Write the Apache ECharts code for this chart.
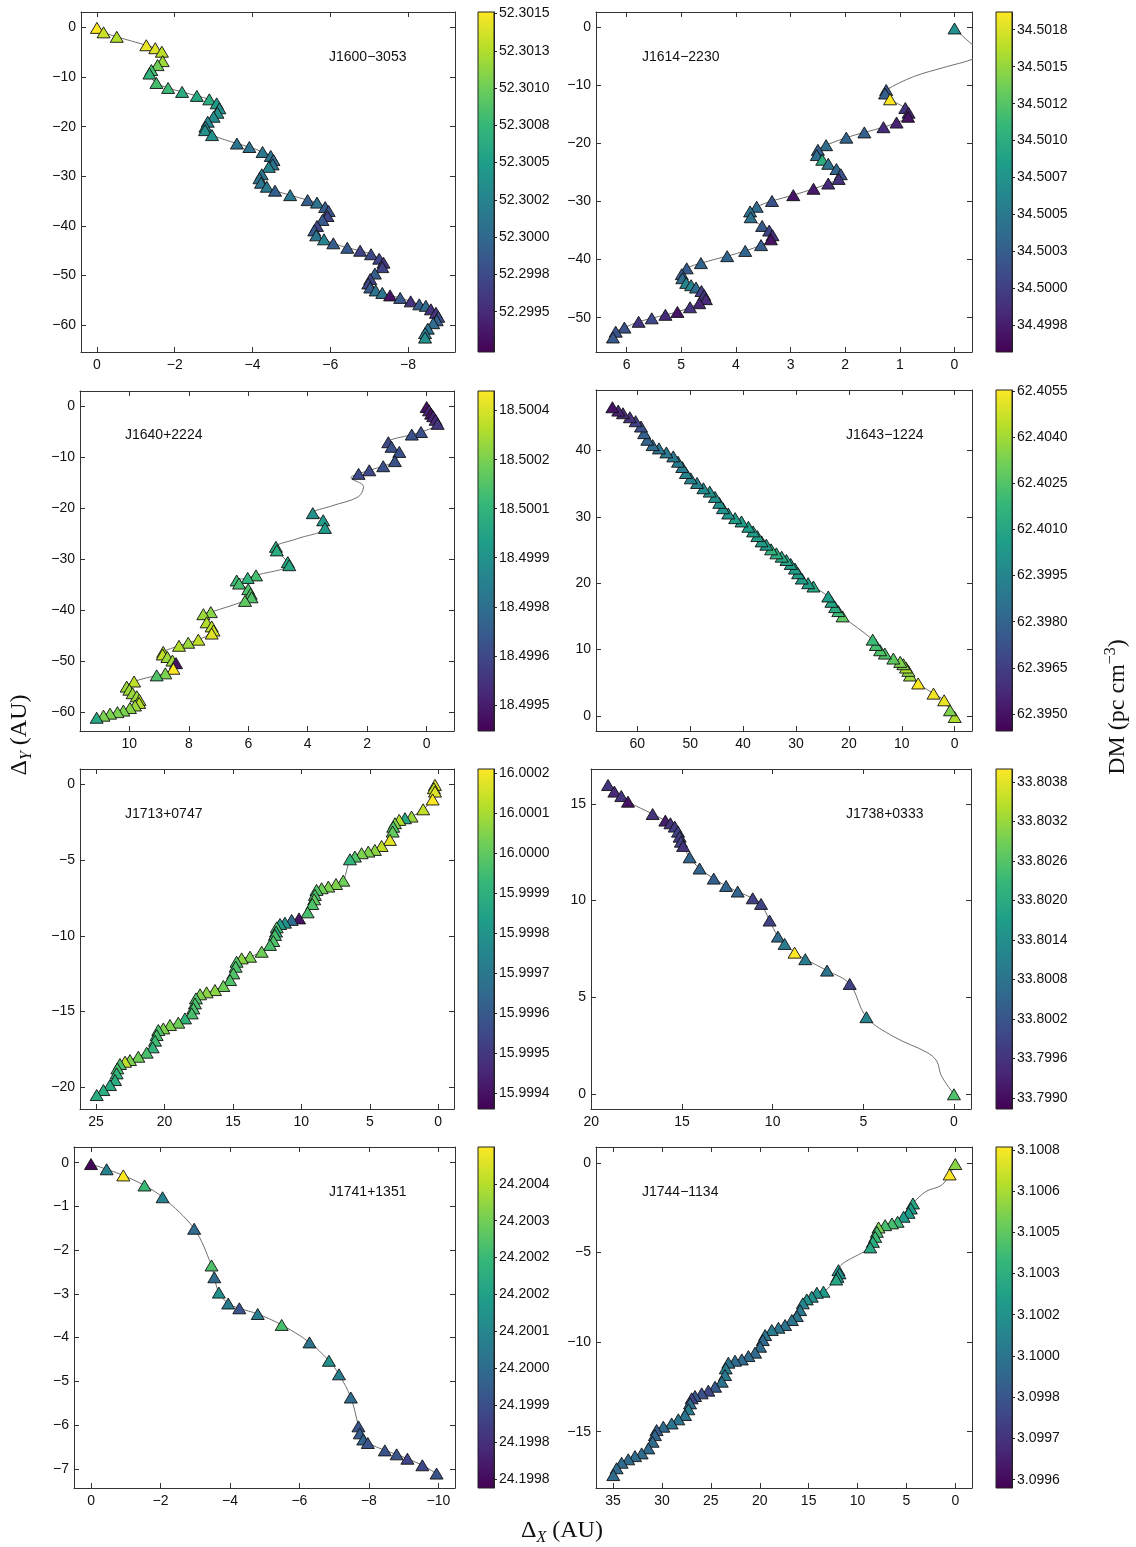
<!DOCTYPE html>
<html>
<head>
<meta charset="utf-8">
<script src="https://cdn.jsdelivr.net/npm/echarts@6/dist/echarts.min.js"></script>
<style>
html, body { margin: 0; padding: 0; background: #fff; }
#main { width: 1136px; height: 1547px; }
</style>
</head>
<body>
<div id="main"></div>
<script>
// pulsar names, one panel each
var names = ['J1600\u22123053', 'J1614\u22122230', 'J1640+2224', 'J1643\u22121224',
             'J1713+0747', 'J1738+0333', 'J1741+1351', 'J1744\u22121134'];

// [dX (AU), dY (AU), DM]; rows with DM null are only knots of the grey curve
var psr1600 = [
  [0,-0.1,52.30151],[-0.17,-1.0,52.30133],[-0.51,-1.9,52.30124],[-1.27,-3.6,52.30144],
  [-1.5,-4.2,52.30140],[-1.67,-4.9,52.30128],[-1.69,-6.8,52.30117],[-1.56,-7.6,52.30101],
  [-1.40,-8.6,52.30083],[-1.35,-9.3,52.30071],[-1.53,-11.2,52.30083],[-1.83,-12.2,52.30078],
  [-2.19,-13.0,52.30064],[-2.57,-13.8,52.30060],[-2.89,-14.5,52.30064],[-3.08,-15.3,52.30048],
  [-3.15,-16.3,52.30037],[-3.10,-17.2,52.30037],[-3.0,-18.0,52.30032],[-2.85,-19.0,52.30026],
  [-2.79,-20.0,52.30026],[-2.78,-20.7,52.30037],[-2.96,-21.7,52.30037],[-3.6,-23.4,52.30010],
  [-3.92,-24.1,52.30010],[-4.26,-25.1,52.30014],[-4.47,-25.9,52.30010],[-4.54,-26.7,52.30003],
  [-4.52,-27.6,52.30010],[-4.42,-28.1,52.30026],[-4.24,-29.6,52.30010],[-4.18,-30.4,52.30010],
  [-4.22,-31.3,52.30010],[-4.37,-32.1,52.30014],[-4.58,-32.9,52.29991],[-4.97,-33.8,52.30014],
  [-5.42,-34.8,52.29991],[-5.66,-35.3,52.30010],[-5.87,-36.2,52.29991],[-5.96,-37.0,52.29980],
  [-5.93,-38.0,52.29969],[-5.80,-38.8,52.29987],[-5.66,-40.0,52.29969],[-5.59,-40.9,52.29987],
  [-5.64,-41.9,52.30010],[-5.84,-42.7,52.30026],[-6.08,-43.5,52.29991],[-6.44,-44.4,52.29987],
  [-6.77,-45.0,52.29969],[-7.05,-45.7,52.29973],[-7.26,-46.6,52.29969],[-7.37,-47.4,52.29957],
  [-7.34,-48.3,52.29969],[-7.15,-49.6,52.29991],[-7.03,-50.7,52.29969],[-6.98,-51.6,52.29973],
  [-7.03,-52.4,52.29987],[-7.17,-53.0,52.30010],[-7.34,-53.5,52.30010],[-7.54,-54.0,52.29934],
  [-7.8,-54.5,52.29987],[-8.07,-55.2,52.29957],[-8.29,-55.8,52.29991],[-8.46,-56.1,52.30003],
  [-8.59,-56.8,52.29957],[-8.72,-57.5,52.29957],[-8.78,-58.3,52.29980],[-8.74,-59.0,52.29991],
  [-8.65,-59.6,52.30003],[-8.51,-60.7,52.30010],[-8.44,-61.6,52.30014],[-8.44,-62.5,52.30037]
];
var psr1614 = [
  [0,-0.2,34.50072],[-0.33,-3.0,null],[-0.55,-4.3,null],[-0.33,-5.5,null],[0.15,-6.8,null],[0.75,-8.5,null],
  [1.25,-10.8,34.50015],[1.27,-11.4,34.50026],[1.18,-12.4,34.50187],[0.9,-13.9,34.49992],
  [0.84,-14.7,34.49980],[0.85,-15.4,34.49969],[1.06,-16.4,34.49980],[1.3,-17.2,34.49985],
  [1.65,-18.1,34.50026],[1.98,-19.0,34.50031],[2.35,-20.3,34.50038],[2.50,-21.1,34.50026],
  [2.52,-22.0,34.50038],[2.42,-22.8,34.50100],[2.31,-23.5,34.50044],[2.16,-24.4,34.50033],
  [2.08,-25.3,34.50015],[2.12,-26.1,34.49992],[2.31,-26.9,34.49985],[2.58,-27.8,34.49973],
  [2.95,-28.9,34.49969],[3.34,-29.9,34.50015],[3.62,-30.9,34.50038],[3.74,-31.7,34.50044],
  [3.73,-32.7,34.50044],[3.52,-34.2,34.50021],[3.39,-35.0,34.50003],[3.33,-35.8,34.49992],
  [3.36,-36.5,34.49969],[3.54,-37.5,34.50026],[3.83,-38.5,34.50031],[4.16,-39.4,34.50031],
  [4.64,-40.6,34.50031],[4.90,-41.5,34.50021],[4.99,-42.5,34.50021],[4.98,-43.2,34.50038],
  [4.91,-44.0,34.50061],[4.82,-44.4,34.50061],[4.73,-44.8,34.50038],[4.63,-45.4,34.49998],
  [4.58,-46.1,34.49992],[4.55,-46.8,34.49985],[4.67,-47.5,34.49980],[4.84,-48.2,34.49992],
  [5.07,-49.0,34.49969],[5.29,-49.5,34.49985],[5.54,-50.1,34.50008],[5.78,-50.7,34.49992],
  [6.04,-51.7,34.50015],[6.2,-52.4,34.50015],[6.25,-53.4,34.50021]
];
var psr1640 = [
  [0,-0.2,18.49947],[-0.08,-0.85,18.49952],[-0.15,-1.5,18.49947],[-0.22,-2.0,18.49952],
  [-0.3,-2.7,18.49954],[-0.37,-3.5,18.49958],[0.19,-5.1,18.49968],[0.5,-5.6,18.49968],
  [1.29,-7.1,18.49965],[1.18,-8.0,18.49968],[0.92,-9.0,18.49968],[1.07,-10.8,18.49968],
  [1.46,-11.8,18.49968],[1.93,-12.6,18.49965],[2.29,-13.3,18.49965],
  [2.55,-14.0,null],[2.12,-15.8,null],[2.3,-17.8,null],[3.2,-19.6,null],
  [3.83,-21.0,18.49994],[3.48,-22.4,18.49999],[3.42,-23.9,18.49999],[4.4,-26.1,null],
  [5.07,-27.6,18.50006],[5.04,-28.3,18.50006],[4.67,-30.6,18.50004],[4.62,-31.2,18.50004],
  [5.74,-33.2,18.50015],[6.02,-33.7,18.50010],[6.39,-34.2,18.50013],[6.31,-34.8,18.50015],
  [6.0,-35.9,18.50017],[5.92,-36.8,18.50017],[5.89,-37.5,18.50017],[6.11,-38.2,18.50020],
  [7.26,-40.4,18.50027],[7.51,-40.8,18.50030],[7.4,-42.4,18.50034],[7.23,-43.2,18.50036],
  [7.17,-44.0,18.50038],[7.23,-44.6,18.50041],[7.68,-45.8,18.50036],[8.02,-46.4,18.50030],
  [8.33,-47.0,18.50034],[8.86,-48.2,18.50034],[8.88,-48.7,18.50036],[8.72,-49.2,18.50030],
  [8.55,-49.9,18.50030],[8.43,-50.4,18.49947],[8.52,-51.5,18.50046],[8.79,-52.4,18.50025],
  [9.08,-52.8,18.50017],[9.84,-54.0,18.50036],[10.09,-55.0,18.50030],[10.0,-55.6,18.50030],
  [9.89,-56.3,18.50030],[9.75,-56.9,18.50030],[9.66,-57.6,18.50034],[9.67,-58.2,18.50034],
  [9.81,-58.7,18.50030],[9.98,-59.2,18.50027],[10.2,-59.7,18.50025],[10.4,-60.0,18.50025],
  [10.65,-60.3,18.50025],[10.87,-60.7,18.50025],[11.1,-61.1,18.50004]
];
var psr1643 = [
  [0,-0.15,62.40420],[0.88,0.86,62.40331],[2.0,2.36,62.40520],[4.0,3.37,62.40531],
  [6.9,4.9,62.40553],[8.45,6.1,62.40387],[8.76,6.8,62.40354],[9.2,7.3,62.40420],
  [9.7,7.8,62.40331],[10.3,8.15,62.40331],[11.6,8.65,62.40276],[13.2,9.4,62.40243],
  [14.1,9.9,62.40243],[14.9,10.7,62.40221],[15.5,11.5,62.40198],[21.2,15.0,62.40276],
  [22.0,15.8,62.40198],[22.6,16.4,62.40132],[23.3,17.2,62.40088],[23.9,18.0,62.40054],
  [26.7,19.5,62.40110],[27.7,20.0,62.40054],[28.9,20.7,62.40054],[29.6,21.5,62.40054],
  [30.2,22.2,62.40054],[31.0,22.9,62.40054],[31.8,23.5,62.40088],[32.7,24.0,62.40110],
  [33.7,24.5,62.40132],[34.7,25.1,62.40165],[35.6,25.8,62.40054],[36.5,26.3,62.40054],
  [37.3,27.1,62.40054],[38.1,27.8,62.40054],[39.0,28.5,62.40054],[40.3,29.3,62.40054],
  [41.5,29.8,62.40054],[42.8,30.5,62.40021],[43.8,31.3,62.40021],[44.5,32.1,62.39999],
  [45.3,33.0,62.39999],[46.3,33.8,62.39999],[47.5,34.3,62.39977],[48.7,35.1,62.39944],
  [49.9,35.8,62.39944],[50.8,36.6,62.39944],[51.5,37.5,62.39910],[52.3,38.3,62.39910],
  [53.2,39.1,62.39888],[54.5,39.7,62.39888],[55.9,40.3,62.39866],[57.1,40.8,62.39833],
  [58.1,41.6,62.39800],[58.7,42.6,62.39777],[59.3,43.6,62.39722],[60.3,44.4,62.39667],
  [61.4,45.0,62.39611],[62.7,45.6,62.39578],[63.6,46.0,62.39556],[64.7,46.5,62.39500]
];
var psr1713 = [
  [0.24,-0.04,16.00017],[0.32,-0.26,16.00013],[0.24,-0.48,16.00017],[0.41,-1.0,16.00021],
  [1.1,-1.65,16.00013],[1.95,-2.13,16.00008],[2.43,-2.24,15.99987],[2.85,-2.35,16.00011],
  [3.16,-2.57,16.00004],[3.29,-2.8,15.99997],[3.33,-3.12,16.00000],[3.53,-3.67,16.00017],
  [4.14,-4.07,16.00013],[4.63,-4.33,16.00006],[5.11,-4.44,16.00004],[5.6,-4.55,16.00004],
  [6.09,-4.77,15.99997],[6.45,-4.95,15.99991],[6.94,-6.36,16.00002],[7.47,-6.58,16.00004],
  [8.03,-6.75,16.00004],[8.52,-6.86,16.00002],[8.89,-6.97,15.99997],[9.01,-7.3,15.99997],
  [9.06,-7.59,16.00000],[9.2,-7.9,15.99997],[9.54,-8.45,15.99996],[10.17,-8.85,15.99940],
  [10.71,-8.95,15.99966],[11.2,-9.13,15.99979],[11.56,-9.22,15.99983],[11.8,-9.44,15.99996],
  [11.85,-9.72,15.99989],[11.93,-9.94,15.99996],[12.05,-10.34,15.99997],[12.29,-10.6,15.99996],
  [12.9,-11.05,16.00002],[13.75,-11.38,16.00004],[14.36,-11.49,16.00006],[14.73,-11.71,15.99997],
  [14.8,-12.04,15.99997],[14.97,-12.48,15.99997],[15.21,-12.92,15.99997],[15.7,-13.31,16.00002],
  [16.31,-13.58,16.00006],[16.92,-13.73,16.00006],[17.4,-13.86,16.00004],[17.7,-14.13,15.99997],
  [17.77,-14.46,15.99996],[17.89,-14.79,15.99996],[18.01,-15.12,15.99996],[18.5,-15.45,15.99991],
  [18.99,-15.73,16.00002],[19.6,-15.89,16.00004],[20.08,-16.11,16.00004],[20.45,-16.22,15.99997],
  [20.57,-16.55,15.99996],[20.69,-16.92,15.99994],[20.86,-17.36,15.99991],[21.3,-17.71,15.99996],
  [21.91,-17.98,16.00002],[22.52,-18.2,16.00004],[22.88,-18.31,16.00013],[23.25,-18.46,15.99996],
  [23.44,-18.75,15.99996],[23.49,-19.08,15.99991],[23.61,-19.52,15.99989],[23.98,-19.85,15.99987],
  [24.46,-20.18,15.99989],[24.95,-20.51,15.99989]
];
var psr1738 = [
  [19.08,15.98,33.79961],[18.73,15.64,33.79945],[18.35,15.41,33.79961],[17.98,15.12,33.79909],
  [16.62,14.48,33.79961],[15.92,14.14,33.79924],[15.64,14.0,33.79961],[15.4,13.83,33.79976],
  [15.22,13.57,33.79986],[15.13,13.31,33.79976],[15.06,13.05,33.79986],[14.94,12.83,33.79961],
  [14.58,12.24,33.80048],[14.03,11.66,33.80048],[13.25,11.14,33.80038],[12.57,10.76,33.80048],
  [11.93,10.47,33.80048],[11.1,10.12,33.79986],[10.64,9.83,33.79986],[10.17,8.97,33.79986],
  [9.71,8.14,33.80064],[9.34,7.76,33.80100],[8.79,7.31,33.80400],[8.2,6.97,33.80100],
  [7.0,6.38,33.80079],[5.75,5.69,33.79986],[4.83,3.97,33.80116],
  [3.3,2.95,null],[1.5,2.15,null],[0.95,1.7,null],[0.7,0.95,null],
  [0,-0.02,33.80255]
];
var psr1741 = [
  [0,-0.03,24.19975],[-0.45,-0.15,24.20007],[-0.93,-0.29,24.20048],[-1.54,-0.52,24.20024],
  [-2.06,-0.79,24.20007],[-2.97,-1.51,24.20000],[-3.47,-2.35,24.20027],[-3.55,-2.62,24.20000],
  [-3.68,-2.97,24.20011],[-3.95,-3.22,24.20005],[-4.27,-3.33,24.19993],[-4.8,-3.46,24.20005],
  [-5.49,-3.71,24.20026],[-6.29,-4.11,24.20002],[-6.85,-4.53,24.20011],[-7.14,-4.84,24.20005],
  [-7.48,-5.37,24.20000],[-7.7,-6.03,24.19993],[-7.74,-6.19,24.19995],[-7.84,-6.33,24.19998],
  [-7.97,-6.41,24.19993],[-8.46,-6.58,24.19993],[-8.8,-6.67,24.19993],[-9.11,-6.77,24.19989],
  [-9.54,-6.92,24.19990],[-9.95,-7.11,24.19993]
];
var psr1744 = [
  [0,-0.07,3.10059],[0.58,-0.65,3.10081],[1.4,-1.25,null],[3.0,-1.6,null],
  [4.33,-2.27,3.10031],[4.54,-2.55,3.10025],[4.78,-2.79,3.10025],[5.29,-3.01,3.10025],
  [5.9,-3.29,3.10041],[6.48,-3.38,3.10044],[7.17,-3.48,3.10044],[7.85,-3.61,3.10056],
  [8.02,-3.85,3.10044],[8.19,-4.13,3.10041],[8.43,-4.41,3.10034],[8.7,-4.72,3.10031],
  [11.95,-5.99,3.10019],[11.84,-6.17,3.10019],[12.05,-6.36,3.10025],[12.18,-6.51,3.10031],
  [13.48,-7.19,3.10025],[14.16,-7.25,3.10019],[14.68,-7.47,3.10019],[15.19,-7.62,3.10019],
  [15.6,-7.84,3.10013],[15.87,-8.22,3.10007],[16.21,-8.55,3.10004],[16.72,-8.77,3.10004],
  [17.41,-9.05,3.10004],[18.09,-9.2,3.10004],[18.77,-9.33,3.10009],[19.45,-9.61,3.10004],
  [19.69,-9.89,3.10000],[19.97,-10.26,3.10000],[20.48,-10.59,3.10000],[21.16,-10.78,3.10000],
  [21.84,-10.97,3.10000],[22.53,-11.04,3.10000],[23.21,-11.15,3.10004],[23.48,-11.47,3.10009],
  [23.55,-11.84,3.10007],[23.89,-12.21,3.10004],[24.57,-12.49,3.09992],[25.26,-12.71,3.09984],
  [25.94,-12.86,3.09988],[26.62,-13.01,3.09992],[26.96,-13.14,3.09982],[27.13,-13.42,3.10000],
  [27.3,-13.75,3.10009],[27.65,-14.07,3.10004],[28.33,-14.31,3.10004],[29.01,-14.54,3.10004],
  [29.86,-14.72,3.10000],[30.55,-14.91,3.09992],[30.72,-15.19,3.09997],[30.96,-15.56,3.10000],
  [31.4,-15.93,3.10000],[32.08,-16.21,3.10000],[32.76,-16.36,3.10000],[33.45,-16.54,3.10000],
  [34.13,-16.73,3.10000],[34.64,-17.04,3.10000],[34.98,-17.42,3.10000]
];
var pulsars = [psr1600, psr1614, psr1640, psr1643, psr1713, psr1738, psr1741, psr1744];

// axis ranges and ticks (x axes run right to left)
var xRange = [[-9.21,0.41],[-0.32,6.56],[-0.92,11.66],[-3.27,67.8],[-1.15,26.17],[-0.94,20.02],[-10.48,0.49],[-1.71,36.75]];
var yRange = [[-65.4,3.1],[-55.9,2.63],[-63.7,2.94],[-2.26,49.1],[-21.43,1.01],[-0.78,16.81],[-7.44,0.36],[-18.14,0.88]];
var xTicks = [[0,-2,-4,-6,-8],[6,5,4,3,2,1,0],[10,8,6,4,2,0],[60,50,40,30,20,10,0],
              [25,20,15,10,5,0],[20,15,10,5,0],[0,-2,-4,-6,-8,-10],[35,30,25,20,15,10,5,0]];
var yTicks = [[0,-10,-20,-30,-40,-50,-60],[0,-10,-20,-30,-40,-50],[0,-10,-20,-30,-40,-50,-60],[0,10,20,30,40],
              [0,-5,-10,-15,-20],[0,5,10,15],[0,-1,-2,-3,-4,-5,-6,-7],[0,-5,-10,-15]];

// colour bar ranges and ticks (DM, pc cm^-3)
var dmRange = [[52.29923,52.30151],[34.49957,34.50187],[18.49942,18.50046],[62.39445,62.40553],
               [15.99936,16.00021],[33.79883,33.80400],[24.19974,24.20048],[3.09957,3.10081]];
var dmTickVals = [
  [52.2995,52.29975,52.3,52.30025,52.3005,52.30075,52.301,52.30125,52.3015],
  [34.49975,34.5,34.50025,34.5005,34.50075,34.501,34.50125,34.5015,34.50175],
  [18.4995,18.49965,18.4998,18.49995,18.5001,18.50025,18.5004],
  [62.395,62.3965,62.398,62.3995,62.401,62.4025,62.404,62.4055],
  [15.9994,15.9995,15.9996,15.9997,15.9998,15.9999,16.0,16.0001,16.0002],
  [33.799,33.7996,33.8002,33.8008,33.8014,33.802,33.8026,33.8032,33.8038],
  [24.19976,24.19984,24.19992,24.2,24.20008,24.20016,24.20024,24.20032,24.2004],
  [3.0996,3.09975,3.0999,3.10005,3.1002,3.10035,3.1005,3.10065,3.1008]
];
var dmTickLabels = [
  ['52.2995','52.2998','52.3000','52.3002','52.3005','52.3008','52.3010','52.3013','52.3015'],
  ['34.4998','34.5000','34.5003','34.5005','34.5007','34.5010','34.5012','34.5015','34.5018'],
  ['18.4995','18.4996','18.4998','18.4999','18.5001','18.5002','18.5004'],
  ['62.3950','62.3965','62.3980','62.3995','62.4010','62.4025','62.4040','62.4055'],
  ['15.9994','15.9995','15.9996','15.9997','15.9998','15.9999','16.0000','16.0001','16.0002'],
  ['33.7990','33.7996','33.8002','33.8008','33.8014','33.8020','33.8026','33.8032','33.8038'],
  ['24.1998','24.1998','24.1999','24.2000','24.2001','24.2002','24.2002','24.2003','24.2004'],
  ['3.0996','3.0997','3.0998','3.1000','3.1002','3.1003','3.1005','3.1006','3.1008']
];

// page layout: [left, top, width, height] of each panel, name label spot
var plotBox = [[81,12,374,340],[596,12,376,340],[80,391,374,340],[596,390,376,341],
               [80,769,374,340],[591,769,380,340],[74,1147,381,341],[596,1147,376,341]];
var nameAt = [[329,57],[642,57],[125,435],[846,435],[125,814],[846,814],[329,1192],[642,1192]];

var viridis = ['#440154','#482878','#3e4989','#31688e','#26828e','#1f9e89','#35b779','#6ece58','#b5de2b','#fde725'];
var axisCol = '#333';
var font = 'Liberation Sans, Arial, sans-serif';
var serif = 'Liberation Serif, DejaVu Serif, serif';

function fmt(v) {
    return v < 0 ? '\u2212' + Math.abs(v) : '' + v;
}

var grids = [], xAxes = [], yAxes = [], series = [], visualMaps = [], graphics = [];

for (var i = 0; i < 8; i++) {
    var b = plotBox[i];
    grids.push({left: b[0], top: b[1], width: b[2], height: b[3]});

    var tickStyle = {show: true, inside: true, length: 5, lineStyle: {color: axisCol, width: 1}};
    var lineStyle = {show: true, onZero: false, lineStyle: {color: axisCol, width: 1}};
    // bottom + top x axes
    xAxes.push({
        gridIndex: i, type: 'value', position: 'bottom', inverse: true,
        min: xRange[i][0], max: xRange[i][1],
        axisLine: lineStyle,
        axisTick: Object.assign({customValues: xTicks[i]}, tickStyle),
        axisLabel: {customValues: xTicks[i], formatter: fmt, fontSize: 14, color: '#111', margin: 6, fontFamily: font},
        splitLine: {show: false}
    });
    xAxes.push({
        gridIndex: i, type: 'value', position: 'top', inverse: true,
        min: xRange[i][0], max: xRange[i][1],
        axisLine: lineStyle,
        axisTick: Object.assign({customValues: xTicks[i]}, tickStyle),
        axisLabel: {show: false}, splitLine: {show: false}
    });
    // left + right y axes
    yAxes.push({
        gridIndex: i, type: 'value', position: 'left',
        min: yRange[i][0], max: yRange[i][1],
        axisLine: lineStyle,
        axisTick: Object.assign({customValues: yTicks[i]}, tickStyle),
        axisLabel: {customValues: yTicks[i], formatter: fmt, fontSize: 14, color: '#111', margin: 5, fontFamily: font},
        splitLine: {show: false}
    });
    yAxes.push({
        gridIndex: i, type: 'value', position: 'right',
        min: yRange[i][0], max: yRange[i][1],
        axisLine: lineStyle,
        axisTick: Object.assign({customValues: yTicks[i]}, tickStyle),
        axisLabel: {show: false}, splitLine: {show: false}
    });

    var pts = pulsars[i];
    // grey curve through the positions
    series.push({
        type: 'line', xAxisIndex: 2 * i, yAxisIndex: 2 * i,
        data: pts.map(function (p) { return [p[0], p[1]]; }),
        smooth: 0.35, symbol: 'none', silent: true, z: 1,
        lineStyle: {color: '#707070', width: 1}
    });
    // triangles coloured by DM
    series.push({
        type: 'scatter', xAxisIndex: 2 * i, yAxisIndex: 2 * i,
        data: pts.filter(function (p) { return p[2] !== null; }),
        symbol: 'triangle', symbolSize: [13, 11], z: 2,
        itemStyle: {borderColor: '#111', borderWidth: 0.9, opacity: 1}
    });
    visualMaps.push({
        type: 'continuous', show: false, seriesIndex: 2 * i + 1, dimension: 2,
        min: dmRange[i][0], max: dmRange[i][1], inRange: {color: viridis}
    });

    graphics.push({
        type: 'text', x: nameAt[i][0], y: nameAt[i][1],
        style: {text: names[i], font: '14px ' + font, fill: '#111', textVerticalAlign: 'middle'}
    });
}

// colour bars
for (var k = 0; k < 8; k++) {
    var pb = plotBox[k];
    var cx = (k % 2 === 0) ? 478 : 996;
    var stops = viridis.map(function (c, j) { return {offset: 1 - j / (viridis.length - 1), color: c}; });
    grids.push({
        left: cx, top: pb[1], width: 16, height: pb[3], show: true,
        backgroundColor: {type: 'linear', x: 0, y: 0, x2: 0, y2: 1, colorStops: stops.reverse()},
        borderColor: '#222', borderWidth: 1
    });
    xAxes.push({gridIndex: 8 + k, type: 'value', min: 0, max: 1, show: false});
    (function (idx) {
        yAxes.push({
            gridIndex: 8 + idx, type: 'value', position: 'right',
            min: dmRange[idx][0], max: dmRange[idx][1],
            axisLine: {show: true, onZero: false, lineStyle: {color: '#222'}},
            axisTick: {show: true, inside: false, length: 3, customValues: dmTickVals[idx], lineStyle: {color: '#222'}},
            axisLabel: {
                customValues: dmTickVals[idx], fontSize: 14, color: '#111', margin: 5, fontFamily: font,
                formatter: function (v) {
                    var vals = dmTickVals[idx], best = 0;
                    for (var j = 1; j < vals.length; j++) {
                        if (Math.abs(vals[j] - v) < Math.abs(vals[best] - v)) best = j;
                    }
                    return dmTickLabels[idx][best];
                }
            },
            splitLine: {show: false}
        });
    })(k);
}

// axis titles
graphics.push({
    type: 'text', x: 20, y: 735, rotation: Math.PI / 2,
    style: {
        text: '{a|\u0394}{s|Y}{a| (AU)}', textAlign: 'center', textVerticalAlign: 'middle',
        rich: {
            a: {fontSize: 24, fontFamily: serif, fill: '#111', lineHeight: 30, verticalAlign: 'middle'},
            s: {fontSize: 16, fontFamily: serif, fontStyle: 'italic', fill: '#111', lineHeight: 16, verticalAlign: 'bottom'}
        }
    }
});
graphics.push({
    type: 'text', x: 562, y: 1531,
    style: {
        text: '{a|\u0394}{s|X}{a| (AU)}', textAlign: 'center', textVerticalAlign: 'middle',
        rich: {
            a: {fontSize: 24, fontFamily: serif, fill: '#111', lineHeight: 30, verticalAlign: 'middle'},
            s: {fontSize: 16, fontFamily: serif, fontStyle: 'italic', fill: '#111', lineHeight: 16, verticalAlign: 'bottom'}
        }
    }
});
graphics.push({
    type: 'text', x: 1118, y: 707, rotation: Math.PI / 2,
    style: {
        text: '{a|DM (pc cm}{p|\u22123}{a|)}', textAlign: 'center', textVerticalAlign: 'middle',
        rich: {
            a: {fontSize: 24, fontFamily: serif, fill: '#111', lineHeight: 30, verticalAlign: 'middle'},
            p: {fontSize: 16, fontFamily: serif, fill: '#111', lineHeight: 16, verticalAlign: 'top'}
        }
    }
});

var myChart = echarts.init(document.getElementById('main'), null, {renderer: 'canvas'});
myChart.setOption({
    animation: false,
    backgroundColor: '#fff',
    textStyle: {fontFamily: font},
    grid: grids,
    xAxis: xAxes,
    yAxis: yAxes,
    visualMap: visualMaps,
    series: series,
    graphic: graphics
});
</script>
</body>
</html>
